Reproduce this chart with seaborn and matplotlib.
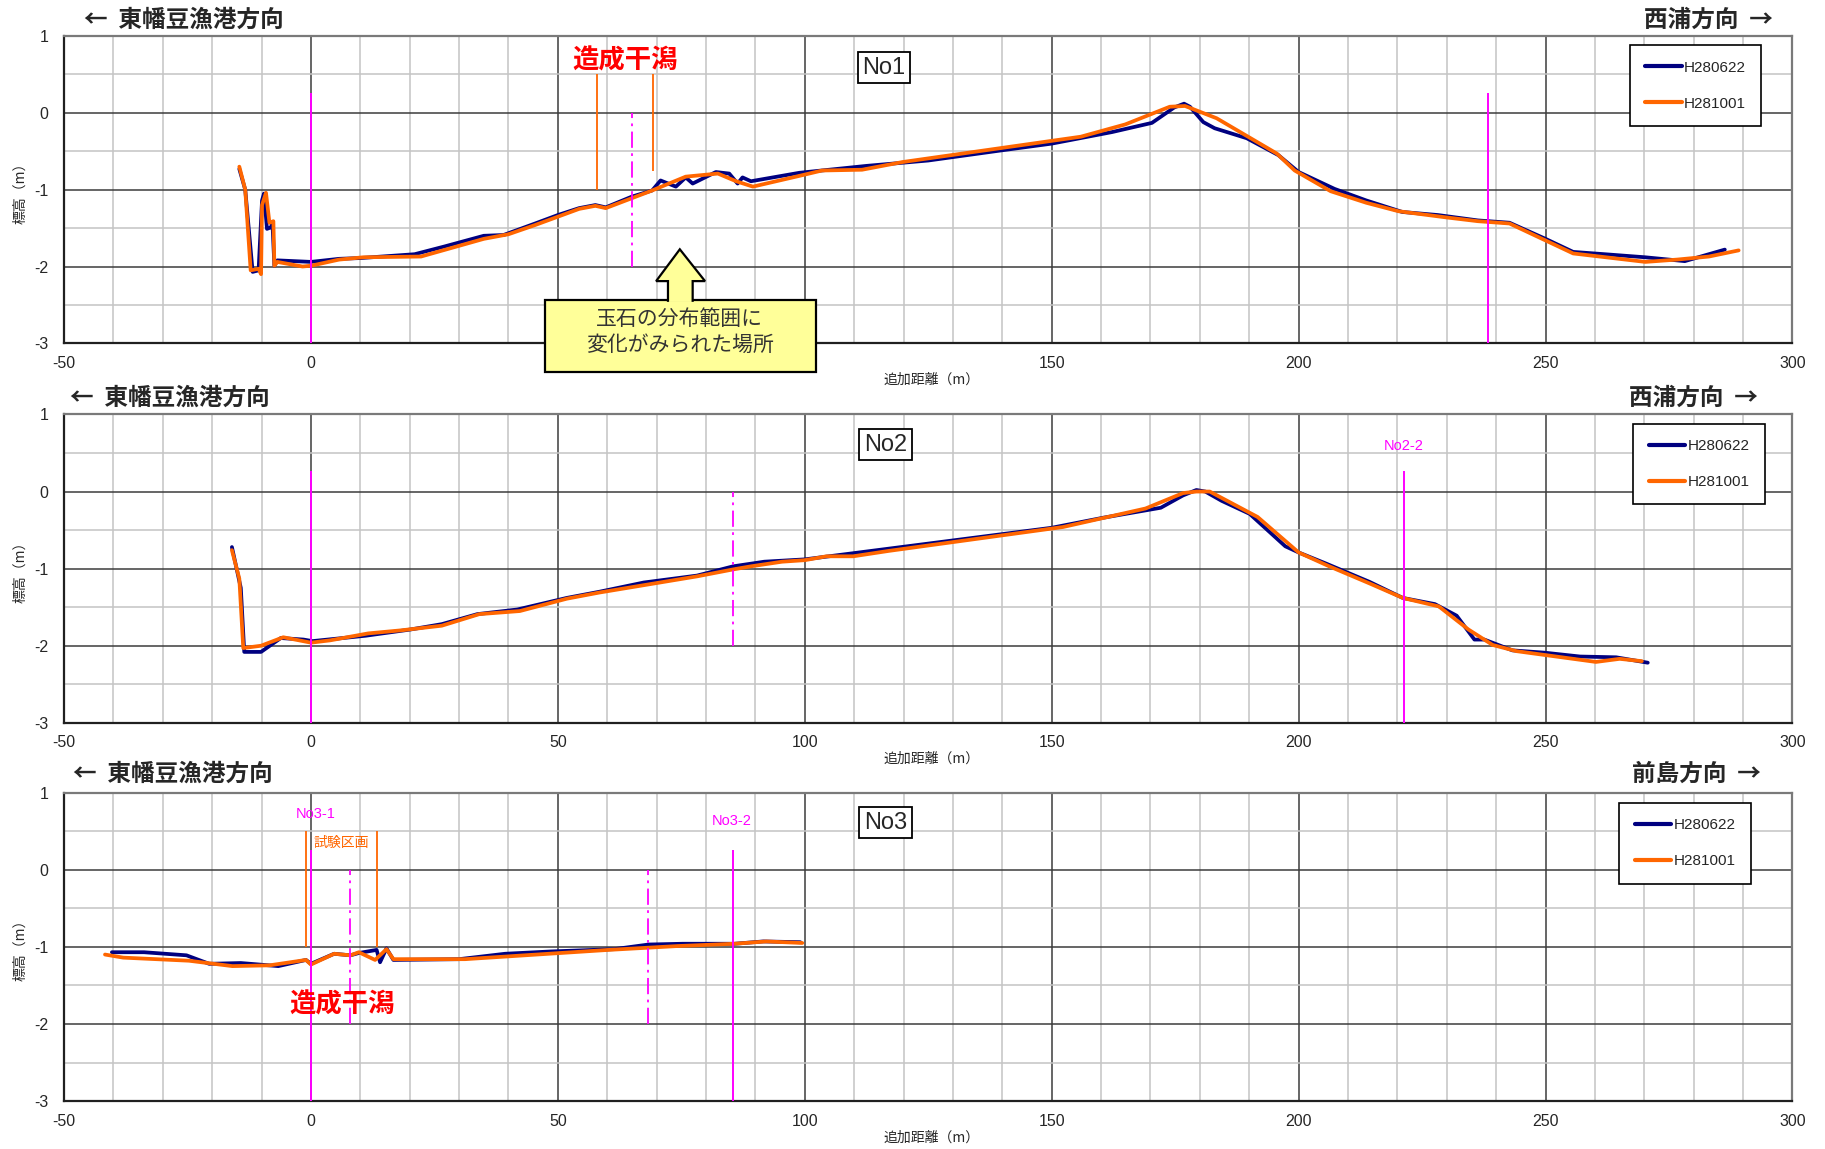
import numpy as np
import pandas as pd
import matplotlib
matplotlib.use("Agg")
import matplotlib.pyplot as plt
from matplotlib import font_manager
from matplotlib.lines import Line2D
from matplotlib.patches import Polygon, Rectangle
import seaborn as sns

# ---------------------------------------------------------------------------
# Survey profiles (distance along line [m], elevation [m])
# ---------------------------------------------------------------------------
SURVEYS = ["H280622", "H281001"]

# No1
no1_x_h280622 = [-14.5, -13.3, -11.8, -10.6, -9.9, -9.5, -8.9, -8.1, -7.8, -7.4, -6.8, 0, 5.7, 10,
                 21, 27, 35, 39, 45.4, 50, 54.3, 57.6, 59.7, 65, 69.1, 70.8, 73.9, 75.9, 77.3,
                 82, 84.7, 86.4, 87.4, 89.1, 98.9, 112.5, 125, 139.6, 150, 162.2, 170.3, 174.8,
                 176.8, 178, 180.7, 183, 189.5, 195.9, 200, 207.3, 213.7, 221, 228.2, 236.3,
                 242.7, 250, 255.6, 262, 270.2, 278.2, 286.3]
no1_y_h280622 = [-0.73, -1.0, -2.07, -2.05, -1.14, -1.05, -1.51, -1.49, -1.42, -1.99, -1.92, -1.94,
                 -1.90, -1.89, -1.84, -1.74, -1.60, -1.59, -1.44, -1.33, -1.24, -1.20, -1.23,
                 -1.09, -1.01, -0.88, -0.96, -0.84, -0.92, -0.77, -0.79, -0.92, -0.84, -0.89,
                 -0.78, -0.69, -0.62, -0.49, -0.40, -0.25, -0.13, 0.07, 0.12, 0.08, -0.12,
                 -0.20, -0.33, -0.55, -0.77, -0.99, -1.14, -1.29, -1.33, -1.40, -1.43, -1.64,
                 -1.81, -1.84, -1.88, -1.93, -1.78]
no1_x_h281001 = [-14.5, -13.3, -12.2, -10.6, -10.1, -9.9, -9.1, -8.4, -7.6, -7.4, -6.8, -1.7, 0,
                 5.7, 10.6, 22.3, 35, 40, 45.4, 54.3, 57.6, 59.7, 69.1, 75.9, 82.4, 86.1, 89.5,
                 98.9, 103.5, 111.6, 119.8, 155.9, 164.9, 173.9, 177, 183.4, 195.6, 199.2,
                 206.5, 213.7, 220.2, 229.8, 236.3, 242.7, 255.6, 270.2, 276.6, 283.1, 289.1]
no1_y_h281001 = [-0.70, -1.0, -2.05, -2.03, -2.10, -1.20, -1.04, -1.43, -1.41, -1.99, -1.94,
                 -2.00, -1.99, -1.91, -1.88, -1.87, -1.64, -1.58, -1.46, -1.25, -1.21, -1.24,
                 -1.01, -0.83, -0.79, -0.89, -0.96, -0.82, -0.75, -0.74, -0.64, -0.31, -0.15,
                 0.08, 0.09, -0.07, -0.53, -0.75, -1.02, -1.17, -1.28, -1.36, -1.41, -1.44,
                 -1.83, -1.94, -1.91, -1.87, -1.79]

# No2
no2_x_h280622 = [-16, -14.2, -13.5, -10.1, -6.1, -1.5, 0.3, 11.1, 20.1, 26.5, 33.7, 41.8, 51.8,
                 58.4, 67.4, 78.2, 85.5, 91.8, 100, 109.8, 150, 160.4, 172.1, 176.6, 179.3,
                 181.1, 184.4, 190.1, 197.3, 200, 205.4, 214.3, 221.1, 227.6, 232, 235.6,
                 237.6, 243.3, 249.8, 257, 264.3, 270.7]
no2_y_h280622 = [-0.72, -1.25, -2.08, -2.08, -1.90, -1.92, -1.94, -1.87, -1.79, -1.72, -1.59,
                 -1.53, -1.38, -1.30, -1.18, -1.09, -0.97, -0.91, -0.88, -0.80, -0.47, -0.34,
                 -0.21, -0.05, 0.02, 0.0, -0.12, -0.29, -0.71, -0.79, -0.93, -1.17, -1.38,
                 -1.46, -1.61, -1.92, -1.92, -2.06, -2.09, -2.14, -2.15, -2.22]
no2_x_h281001 = [-16, -14.5, -13.7, -10.1, -5.6, 0, 3.9, 11.6, 18.3, 26.5, 34.1, 42.3, 51.8,
                 58.4, 78.2, 85.5, 89.1, 95.4, 100, 104.4, 109.8, 117, 152.3, 169, 176.6,
                 179.3, 182, 191.7, 200, 206.2, 214.3, 221.1, 228.4, 234.4, 239.3, 244.1,
                 260.2, 265, 269.5]
no2_y_h281001 = [-0.76, -1.13, -2.03, -2.0, -1.89, -1.96, -1.93, -1.84, -1.80, -1.74, -1.59,
                 -1.55, -1.39, -1.31, -1.10, -1.01, -0.97, -0.91, -0.89, -0.84, -0.84, -0.77,
                 -0.46, -0.22, -0.02, 0.0, 0.0, -0.33, -0.79, -0.97, -1.19, -1.38, -1.49,
                 -1.79, -1.99, -2.07, -2.21, -2.17, -2.20]

# No3
no3_x_h280622 = [-40.3, -33.8, -25.2, -20.6, -14.2, -6.6, -1.0, 0, 4.7, 8.0, 9.7, 13.3, 14.0,
                 15.3, 16.7, 30, 39.3, 48.6, 61.4, 68.4, 75.3, 85.8, 91.6, 99.1]
no3_y_h280622 = [-1.07, -1.07, -1.11, -1.22, -1.21, -1.25, -1.17, -1.22, -1.09, -1.11, -1.08,
                 -1.04, -1.20, -1.02, -1.17, -1.16, -1.09, -1.06, -1.03, -0.97, -0.96, -0.96,
                 -0.93, -0.94]
no3_x_h281001 = [-41.7, -38, -24.7, -15.9, -8.4, -1.0, 0, 4.7, 8.0, 9.7, 13.0, 15.3, 16.7, 31.2,
                 60.2, 74.2, 85.8, 92.2, 99.5]
no3_y_h281001 = [-1.10, -1.14, -1.18, -1.25, -1.24, -1.17, -1.23, -1.09, -1.11, -1.07, -1.17,
                 -1.03, -1.16, -1.16, -1.04, -0.99, -0.96, -0.93, -0.95]

# Reference lines on each profile
no1_stake_x = [0, 238.4]          # survey stakes (solid magenta)
no1_center_x = [65.1]             # centre of the flat (dash-dot magenta)
no1_flat_x = [58.0, 69.3]         # edges of the created tidal flat (orange)
no1_flat_bottom = [-1.0, -0.76]

no2_stake_x = [0, 221.3]
no2_stake_names = ["", "No2-2"]
no2_center_x = [85.5]

no3_stake_x = [0, 85.5]
no3_stake_names = ["No3-1", "No3-2"]
no3_center_x = [8.0, 68.3]
no3_test_x = [-1.0, 13.3]          # test plot boundaries (orange)
no3_test_bottom = [-1.0, -1.0]

# Tick labels
x_ticks = [-50, 0, 50, 100, 150, 200, 250, 300]
y_ticks = [-3, -2, -1, 0, 1]

# ---------------------------------------------------------------------------
# Style
# ---------------------------------------------------------------------------
sns.set_style("white")
available = {f.name for f in font_manager.fontManager.ttflist}
NARROW = "Liberation Sans Narrow" if "Liberation Sans Narrow" in available else "Liberation Sans"
JP = "Noto Sans CJK JP"
plt.rcParams["font.family"] = [NARROW, JP, "DejaVu Sans"]
plt.rcParams["axes.unicode_minus"] = False

NAVY = "#000080"
ORANGE = "#FF6600"
MAGENTA = "#FF00FF"
PALETTE = {"H280622": NAVY, "H281001": ORANGE}
DASHDOT = (0, (9, 3, 1.5, 3))

fig = plt.figure(figsize=(18.25, 11.49), dpi=100)
positions = [(0.03507, 0.7012, 0.9471, 0.2674),
             (0.03507, 0.3709, 0.9471, 0.2684),
             (0.03507, 0.0417, 0.9471, 0.2685)]
axes = [fig.add_axes(p) for p in positions]


def frame(ax):
    ax.set_xlim(-50, 300)
    ax.set_ylim(-3, 1)
    ax.set_xticks(x_ticks)
    ax.set_xticks(np.arange(-50, 301, 10), minor=True)
    ax.set_yticks(y_ticks)
    ax.set_yticks(np.arange(-3, 1.01, 0.5), minor=True)
    ax.grid(which="minor", color="#c4c4c4", lw=1.1)
    ax.grid(which="major", color="#3c3c3c", lw=1.1)
    ax.set_axisbelow(True)
    ax.tick_params(which="both", length=0)
    ax.tick_params(axis="x", pad=9, labelsize=11.5)
    ax.tick_params(axis="y", pad=11, labelsize=11.5)
    for side in ("left", "bottom"):
        ax.spines[side].set_color("#202020")
        ax.spines[side].set_linewidth(1.6)
    for side in ("top", "right"):
        ax.spines[side].set_color("#7a7a7a")
        ax.spines[side].set_linewidth(1.6)
    ax.set_xlabel("追加距離（m）", fontsize=10, family=[JP])
    ax.set_ylabel("標高（m）", fontsize=10, family=[JP])
    ax.xaxis.set_label_coords(0.502, -0.095)
    ax.yaxis.set_label_coords(-0.021, 0.5)


def profiles(ax, xa, ya, xb, yb):
    df = pd.concat([
        pd.DataFrame({"dist": xa, "elev": ya, "survey": SURVEYS[0]}),
        pd.DataFrame({"dist": xb, "elev": yb, "survey": SURVEYS[1]}),
    ], ignore_index=True)
    sns.lineplot(data=df, x="dist", y="elev", hue="survey", hue_order=SURVEYS,
                 palette=PALETTE, sort=False, estimator=None, lw=2.7,
                 legend=False, ax=ax, zorder=5)


def legend(ax, right, top):
    handles = [Line2D([], [], color=PALETTE[s], lw=3) for s in SURVEYS]
    leg = ax.legend(handles, SURVEYS, loc="upper right", bbox_to_anchor=(right, top),
                    bbox_transform=ax.transAxes, borderaxespad=0,
                    prop={"family": NARROW, "size": 11}, labelspacing=1.45,
                    handlelength=2.4, handletextpad=0.15, borderpad=1.0,
                    frameon=True, fancybox=False, framealpha=1, edgecolor="black")
    leg.get_frame().set_linewidth(1.2)
    leg.set_zorder(20)


def headers(ax, left_x, right_x, y, right_text):
    ax.text(left_x, y, "←  東幡豆漁港方向", transform=ax.transAxes, ha="left", va="center",
            fontsize=17, fontweight="bold", family=[JP])
    ax.text(right_x, y, right_text, transform=ax.transAxes, ha="right", va="center",
            fontsize=17, fontweight="bold", family=[JP])


def name_box(ax, text, x, y):
    ax.text(x, y, text, ha="center", va="center", fontsize=17, family=[NARROW], zorder=8,
            bbox=dict(boxstyle="square,pad=0.2", fc="white", ec="black", lw=1.3))


for ax in axes:
    frame(ax)

# ---- No1 ----
ax1 = axes[0]
profiles(ax1, no1_x_h280622, no1_y_h280622, no1_x_h281001, no1_y_h281001)
frame(ax1)
ax1.vlines(no1_stake_x, -3, 0.26, colors=MAGENTA, lw=1.4, zorder=6)
ax1.vlines(no1_center_x, -2, 0, colors=MAGENTA, lw=1.3, linestyles=[DASHDOT], zorder=6)
ax1.vlines(no1_flat_x, no1_flat_bottom, 0.5, colors=ORANGE, lw=1.3, zorder=6)
ax1.text(63.6, 0.68, "造成干潟", ha="center", va="center", color="#FF0000",
         fontsize=19, fontweight="bold", family=[JP], zorder=8)
name_box(ax1, "No1", 116, 0.59)
legend(ax1, 0.982, 0.97)
headers(ax1, 0.0115, 0.9886, 1.053, "西浦方向  →")

# call-out box marking where the cobble distribution changed
box = Rectangle((47.4, -3.37), 54.8, 0.934, fc="#FFFF99", ec="black", lw=1.6,
                clip_on=False, zorder=9)
ax1.add_patch(box)
arrow = Polygon([(72.3, -2.46), (72.3, -2.19), (69.9, -2.19), (74.7, -1.776),
                 (79.8, -2.19), (77.3, -2.19), (77.3, -2.46)],
                closed=False, fc="#FFFF99", ec="black", lw=1.6, clip_on=False, zorder=10)
ax1.add_patch(arrow)
ax1.text(74.7, -2.855, "玉石の分布範囲に\n変化がみられた場所", ha="center", va="center",
         fontsize=15, color="#333333", family=[JP], linespacing=1.25, zorder=11)

# ---- No2 ----
ax2 = axes[1]
profiles(ax2, no2_x_h280622, no2_y_h280622, no2_x_h281001, no2_y_h281001)
frame(ax2)
ax2.vlines(no2_stake_x, -3, 0.26, colors=MAGENTA, lw=1.4, zorder=6)
ax2.vlines(no2_center_x, -2, 0, colors=MAGENTA, lw=1.3, linestyles=[DASHDOT], zorder=6)
for sx, sn in zip(no2_stake_x, no2_stake_names):
    if sn:
        ax2.text(sx, 0.59, sn, ha="center", va="center", color=MAGENTA, fontsize=10.5,
                 family=[NARROW], zorder=8)
name_box(ax2, "No2", 116.4, 0.61)
legend(ax2, 0.984, 0.97)
headers(ax2, 0.0034, 0.980, 1.053, "西浦方向  →")

# ---- No3 ----
ax3 = axes[2]
profiles(ax3, no3_x_h280622, no3_y_h280622, no3_x_h281001, no3_y_h281001)
frame(ax3)
ax3.vlines(no3_test_x, no3_test_bottom, 0.5, colors=ORANGE, lw=1.3, zorder=6)
ax3.vlines(no3_stake_x, -3, 0.26, colors=MAGENTA, lw=1.4, zorder=6)
ax3.vlines(no3_center_x, -2, 0, colors=MAGENTA, lw=1.3, linestyles=[DASHDOT], zorder=6)
ax3.text(1.0, 0.72, no3_stake_names[0], ha="center", va="center", color=MAGENTA,
         fontsize=10.5, family=[NARROW], zorder=8)
ax3.text(85.2, 0.63, no3_stake_names[1], ha="center", va="center", color=MAGENTA,
         fontsize=10.5, family=[NARROW], zorder=8)
ax3.text(6.2, 0.35, "試験区画", ha="center", va="center", color=ORANGE, fontsize=10,
         family=[JP], zorder=8)
ax3.text(6.3, -1.75, "造成干潟", ha="center", va="center", color="#FF0000",
         fontsize=19, fontweight="bold", family=[JP], zorder=8)
name_box(ax3, "No3", 116.4, 0.61)
legend(ax3, 0.976, 0.966)
headers(ax3, 0.0054, 0.982, 1.06, "前島方向  →")

fig.savefig("out.png", dpi=100, facecolor="white")
